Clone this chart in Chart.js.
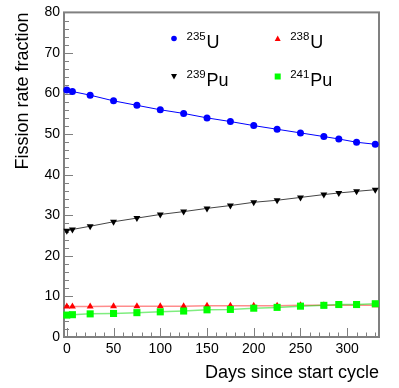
<!DOCTYPE html>
<html><head><meta charset="utf-8">
<script src="https://cdn.jsdelivr.net/npm/chart.js@4/dist/chart.umd.min.js"></script>
<style>html,body{margin:0;padding:0;background:#fff;}canvas{display:block;}</style>
</head><body>
<canvas id="c" width="399" height="388"></canvas>
<script>
// ---- data ----
const days   = [0, 6, 25, 50, 75, 100, 125, 150, 175, 200, 225, 250, 275, 291, 310, 330];
const u235   = [60.9, 60.5, 59.6, 58.2, 57.1, 56.0, 55.1, 54.0, 53.1, 52.1, 51.2, 50.3, 49.4, 48.8, 48.0, 47.5];
const u238   = [7.5, 7.5, 7.5, 7.6, 7.6, 7.6, 7.6, 7.7, 7.7, 7.7, 7.7, 7.8, 7.8, 7.8, 7.8, 7.8];
const pu239  = [26.2, 26.5, 27.3, 28.4, 29.3, 30.2, 30.9, 31.7, 32.4, 33.2, 33.7, 34.4, 35.1, 35.5, 35.9, 36.3];
const pu241  = [5.4, 5.5, 5.7, 5.8, 6.0, 6.2, 6.4, 6.7, 6.8, 7.1, 7.3, 7.6, 7.8, 8.0, 8.0, 8.2];
const xTicks = [0, 50, 100, 150, 200, 250, 300];
const yTicks = [0, 10, 20, 30, 40, 50, 60, 70, 80];
const isoMass   = ['235', '238', '239', '241'];
const isoSymbol = ['U', 'U', 'Pu', 'Pu'];
const xTitle = 'Days since start cycle';
const yTitle = 'Fission rate fraction';

const FONT = "'Liberation Sans', Arial, Helvetica, sans-serif";
const pts = arr => days.map((d, i) => ({x: d, y: arr[i]}));

const framePlugin = {
  id: 'frame',
  beforeDatasetsDraw(chart) {
    const {ctx, chartArea: a, scales: {x, y}} = chart;
    ctx.save();
    ctx.strokeStyle = '#808080';
    ctx.lineWidth = 1;
    for (let v = 0; v <= 80; v += 2) {
      const py = Math.round(y.getPixelForValue(v)) + 0.5;
      const len = v % 10 === 0 ? 9 : 5;
      ctx.beginPath(); ctx.moveTo(a.left, py); ctx.lineTo(a.left + len, py); ctx.stroke();
    }
    for (let v = 0; v <= x.max; v += 10) {
      const px = Math.round(x.getPixelForValue(v)) + 0.5;
      const len = v % 50 === 0 ? 9 : 4.5;
      ctx.beginPath(); ctx.moveTo(px, a.bottom); ctx.lineTo(px, a.bottom - len); ctx.stroke();
    }
    ctx.lineWidth = 2;
    ctx.strokeRect(a.left, a.top, a.right - a.left, a.bottom - a.top);
    ctx.restore();
  }
};

const legendPlugin = {
  id: 'isoLegend',
  afterDraw(chart) {
    const {ctx} = chart;
    const cols = [174, 277.7];
    const rows = [38.5, 76.5];
    ctx.save();
    chart.data.datasets.forEach((ds, i) => {
      const col = i % 2, row = Math.floor(i / 2);
      const mx = cols[col], my = rows[row];
      ctx.fillStyle = ds.backgroundColor;
      ctx.beginPath();
      if (ds.pointStyle === 'circle') {
        ctx.arc(mx, my, 2.8, 0, Math.PI * 2);
      } else if (ds.pointStyle === 'rect') {
        ctx.rect(mx - 3, my - 3, 6, 6);
      } else if (ds.pointRotation === 180) {
        ctx.moveTo(mx - 3, my - 2.5); ctx.lineTo(mx + 3, my - 2.5); ctx.lineTo(mx, my + 3);
      } else {
        ctx.moveTo(mx - 3, my + 2.5); ctx.lineTo(mx + 3, my + 2.5); ctx.lineTo(mx, my - 3);
      }
      ctx.closePath(); ctx.fill();
      ctx.fillStyle = '#000';
      ctx.textBaseline = 'alphabetic';
      ctx.textAlign = 'left';
      ctx.font = '11.5px ' + FONT;
      ctx.fillText(isoMass[i], mx + 12.5, my + 1.3);
      ctx.font = '18px ' + FONT;
      ctx.fillText(isoSymbol[i], mx + 32.5, my + 9.8);
    });
    ctx.restore();
  }
};

const common = {borderWidth: 1, pointBorderWidth: 0, clip: false, tension: 0, showLine: true};

new Chart(document.getElementById('c'), {
  type: 'line',
  data: {
    datasets: [
      Object.assign({label: '235U', data: pts(u235), borderColor: '#0000ff', backgroundColor: '#0000ff',
        pointStyle: 'circle', pointRadius: 3.5, order: 3}, common),
      Object.assign({label: '238U', data: pts(u238), borderColor: 'rgba(255,0,0,0.45)', backgroundColor: '#ff0000',
        pointStyle: 'triangle', pointRadius: 4, order: 2}, common, {borderWidth: 1.5}),
      Object.assign({label: '239Pu', data: pts(pu239), borderColor: '#444444', backgroundColor: '#000000',
        pointStyle: 'triangle', pointRotation: 180, pointRadius: 4, order: 3}, common),
      Object.assign({label: '241Pu', data: pts(pu241), borderColor: 'rgba(0,220,0,0.5)', backgroundColor: '#00ff00',
        pointStyle: 'rect', pointRadius: 5, order: 0}, common, {borderWidth: 1.5})
    ]
  },
  options: {
    responsive: false, animation: false, devicePixelRatio: 1,
    layout: {padding: {left: 0, right: 20, top: 12, bottom: 0}},
    plugins: {legend: {display: false}, tooltip: {enabled: false}},
    scales: {
      x: {
        type: 'linear', min: -3, max: 334,
        grid: {display: false, drawTicks: false}, border: {display: false},
        afterBuildTicks: s => { s.ticks = xTicks.map(v => ({value: v})); },
        afterFit: s => { s.height = 51; },
        ticks: {font: {family: FONT, size: 14}, color: '#000', padding: 4, maxRotation: 0, autoSkip: false},
        title: {display: true, text: xTitle, align: 'end', font: {family: FONT, size: 18}, color: '#000', padding: {top: 0, bottom: 4}}
      },
      y: {
        type: 'linear', min: 0, max: 80,
        grid: {display: false, drawTicks: false}, border: {display: false},
        afterBuildTicks: s => { s.ticks = yTicks.map(v => ({value: v})); },
        afterFit: s => { s.width = 64; },
        ticks: {font: {family: FONT, size: 14}, color: '#000', padding: 4, autoSkip: false},
        title: {display: true, text: yTitle, align: 'end', font: {family: FONT, size: 18}, color: '#000', padding: {top: 12, bottom: 0}}
      }
    }
  },
  plugins: [framePlugin, legendPlugin]
});
</script>
</body></html>
